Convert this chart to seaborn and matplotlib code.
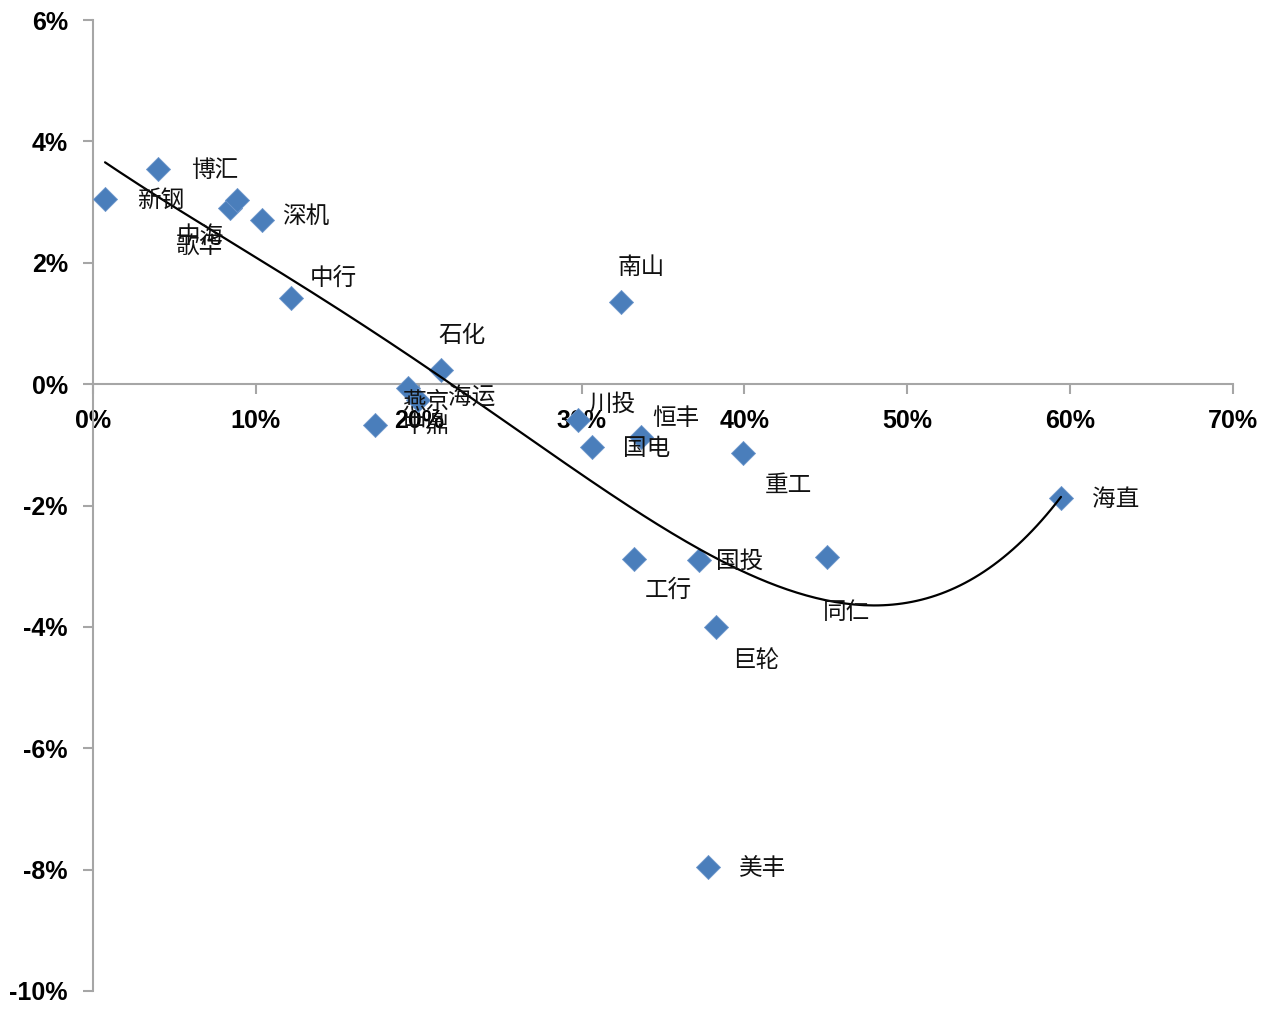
import matplotlib
matplotlib.use("Agg")
import matplotlib.pyplot as plt
import numpy as np
import seaborn as sns
from matplotlib.ticker import FuncFormatter, MultipleLocator

# stock short names, x and y values (fractions)
names = ["新钢", "博汇", "中海", "歌华", "深机", "中行", "南山", "石化", "燕京", "海运",
         "中鼎", "川投", "国电", "恒丰", "重工", "海直", "工行", "国投", "同仁", "巨轮", "美丰"]
x_vals = [0.0074, 0.0399, 0.0841, 0.0884, 0.1038, 0.1216, 0.3242, 0.2137, 0.1935, 0.1996,
          0.1730, 0.2980, 0.3064, 0.3365, 0.3991, 0.5944, 0.3322, 0.3721, 0.4507, 0.3825, 0.3776]
y_vals = [0.0305, 0.0354, 0.0290, 0.0303, 0.0270, 0.0142, 0.0135, 0.0023, -0.0007, -0.0026,
          -0.0068, -0.0059, -0.0104, -0.0087, -0.0114, -0.0188, -0.0288, -0.0290, -0.0285, -0.0400, -0.0796]

# polynomial trend line
trend_x = [0.0074, 0.0626, 0.1240, 0.1854, 0.2161, 0.2468, 0.2990, 0.3402, 0.3807,
           0.4218, 0.4728, 0.5244, 0.5649, 0.5938]
trend_y = [0.0364, 0.0275, 0.0166, 0.0061, 0.0007, -0.0048, -0.0150, -0.0213, -0.0285,
           -0.0339, -0.0364, -0.0339, -0.0273, -0.0188]

# label offsets from the point, in pixels (label centre)
label_offsets = {
    "新钢": (56, -1), "博汇": (57, -1), "中海": (-30, -28), "歌华": (-38, -46),
    "深机": (44, 4), "中行": (42, 20), "南山": (20, 35), "石化": (21, 35),
    "燕京": (18, -14), "海运": (54, 2), "中鼎": (52, 0), "川投": (34, 16),
    "国电": (55, -1), "恒丰": (35, 18), "重工": (45, -32), "海直": (55, -1),
    "工行": (34, -31), "国投": (41, -1), "同仁": (20, -55), "巨轮": (40, -34),
    "美丰": (55, -1),
}


def pct(v, _pos):
    v = round(v * 100)
    return f"{v:d}%" if v != 0 else "0%"


def main() -> None:
    sns.set_theme(style="white")
    plt.rcParams["font.family"] = ["Noto Sans CJK SC", "DejaVu Sans"]
    plt.rcParams["axes.unicode_minus"] = False

    fig = plt.figure(figsize=(12.72, 10.11), dpi=100)
    ax = fig.add_axes([0.0731, 0.0198, 0.8962, 0.9604])

    sns.scatterplot(x=x_vals, y=y_vals, marker="D", s=150, color="#4a7ebb",
                    edgecolor="#6f97cc", linewidth=0.6, ax=ax, zorder=3)

    coefs = np.polyfit(trend_x, trend_y, 4)
    xs = np.linspace(min(x_vals), max(x_vals), 200)
    sns.lineplot(x=xs, y=np.polyval(coefs, xs), color="black", linewidth=1.6,
                 ax=ax, zorder=4, sort=False)

    for name, x, y in zip(names, x_vals, y_vals):
        dx, dy = label_offsets[name]
        ax.annotate(name, (x, y), xytext=(dx, dy), textcoords="offset pixels",
                    ha="center", va="center", fontsize=17, color="#111111", zorder=5)

    ax.set_xlim(0, 0.70)
    ax.set_ylim(-0.10, 0.06)
    ax.xaxis.set_major_locator(MultipleLocator(0.10))
    ax.yaxis.set_major_locator(MultipleLocator(0.02))
    ax.xaxis.set_major_formatter(FuncFormatter(pct))
    ax.yaxis.set_major_formatter(FuncFormatter(pct))

    for side in ["top", "right"]:
        ax.spines[side].set_visible(False)
    ax.spines["bottom"].set_position(("data", 0))
    for side in ["left", "bottom"]:
        ax.spines[side].set_color("#a6a6a6")
        ax.spines[side].set_linewidth(1.5)
    ax.tick_params(axis="both", which="major", direction="out", length=7, width=1.5,
                   color="#a6a6a6", pad=11, bottom=True, left=True)
    for lab in ax.get_xticklabels() + ax.get_yticklabels():
        lab.set_fontfamily("Liberation Sans")
        lab.set_fontweight("bold")
        lab.set_fontsize(18)
        lab.set_color("black")
        lab.set_zorder(6)
    ax.grid(False)
    ax.set_facecolor("white")

    fig.savefig("out.png", dpi=100)
    plt.close(fig)


if __name__ == "__main__":
    main()
